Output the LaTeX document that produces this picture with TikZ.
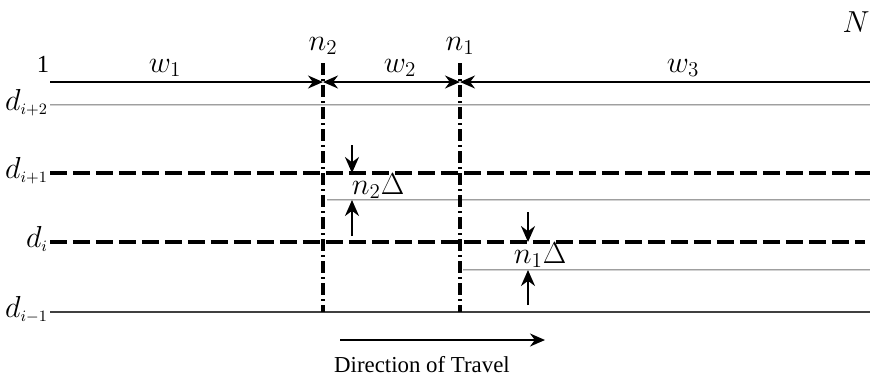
\documentclass[tikz,border=0pt]{standalone}
\usepackage{amsmath,amssymb}
\usepackage{fontspec}
\setmainfont{Liberation Serif}
\usetikzlibrary{arrows.meta,positioning}

\begin{document}
\begin{tikzpicture}[
  lane/.style={line width=0.6pt, draw=black!75},
  shifted/.style={draw=gray!75, double=gray!35, double distance=0.5pt, line width=0.45pt},
  bound/.style={line width=2.4pt, dash pattern=on 0.34cm off 0.12cm},
  split/.style={line width=2.2pt, dash pattern=on 0.24cm off 0.08cm on 0.04cm off 0.08cm},
  win/.style={line width=1pt, -{Stealth[length=0.3cm,width=0.26cm]}},
  gap/.style={line width=1.2pt, -{Stealth[length=0.32cm,width=0.28cm]}},
  lbl/.style={font=\fontsize{18}{20}\selectfont, inner sep=1pt},
  dlbl/.style={font=\fontsize{19}{21}\selectfont, inner sep=1pt, anchor=base east}
]
\useasboundingbox (0,0) rectangle (17.48,-7.52);

%--- corner coordinates
\coordinate (TL) at (1.0,-1.64);   \coordinate (TR) at (17.4,-1.64);
\coordinate (C2) at (6.46,-1.64);  \coordinate (C1) at (9.2,-1.64);

%--- lanes
\coordinate (A0) at (1.0,-2.1);   \coordinate (A1) at (17.4,-2.1);
\coordinate (B0) at (1.0,-3.46);  \coordinate (B1) at (17.4,-3.46);
\coordinate (S0) at (6.54,-4.0);  \coordinate (S1) at (17.4,-4.0);
\coordinate (D0) at (1.0,-4.84);  \coordinate (D1) at (17.3,-4.84);
\coordinate (R0) at (9.26,-5.4);  \coordinate (R1) at (17.4,-5.4);
\coordinate (E0) at (1.0,-6.24);  \coordinate (E1) at (17.4,-6.24);

\draw[shifted] (A0) -- (A1);
\draw[bound] (B0) -- (B1);
\draw[shifted] (S0) -- (S1);
\draw[bound] (D0) -- (D1);
\draw[shifted] (R0) -- (R1);
\draw[lane] (E0) -- (E1);

%--- window splits
\coordinate (V2a) at (6.46,-1.26); \coordinate (V2b) at (6.46,-6.24);
\coordinate (V1a) at (9.2,-1.26);  \coordinate (V1b) at (9.2,-6.24);
\draw[split] (V2a) -- (V2b);
\draw[split] (V1a) -- (V1b);

%--- windows
\draw[win] (TL) -- (C2);
\draw[win, {Stealth[length=0.3cm,width=0.26cm]}-{Stealth[length=0.3cm,width=0.26cm]}] (C2) -- (C1);
\draw[win, {Stealth[length=0.3cm,width=0.26cm]}-] (C1) -- (TR);

\node[lbl] (one) at (0.86,-1.28) {\fontsize{14}{16}\selectfont 1};
\node[lbl] (w1) at (3.3,-1.36) {$w_1$};
\node[lbl] (w2) at (8.0,-1.36) {$w_2$};
\node[lbl] (w3) at (13.66,-1.36) {$w_3$};
\node[lbl] (n2) at (6.46,-0.92) {$n_2$};
\node[lbl] (n1) at (9.2,-0.92) {$n_1$};
\node[lbl] (bigN) at (17.12,-0.44) {$N$};

%--- lane labels
\node[dlbl] (dA) at ([yshift=-0.1cm]A0) {$d_{\scriptscriptstyle i+2}$};
\node[dlbl] (dB) at ([yshift=-0.1cm]B0) {$d_{\scriptscriptstyle i+1}$};
\node[dlbl] (dD) at ([yshift=-0.1cm]D0) {$d_{\scriptscriptstyle i}$};
\node[dlbl] (dE) at ([yshift=-0.1cm]E0) {$d_{\scriptscriptstyle i-1}$};

%--- offsets
\coordinate (G2a) at (7.04,-2.9);  \coordinate (G2b) at (7.04,-3.46);
\coordinate (G2c) at (7.04,-4.72); \coordinate (G2d) at (7.04,-4.0);
\draw[gap] (G2a) -- (G2b);
\draw[gap] (G2c) -- (G2d);
\node[lbl] (del2) at (7.56,-3.72) {$n_2\Delta$};

\coordinate (G1a) at (10.56,-4.24); \coordinate (G1b) at (10.56,-4.84);
\coordinate (G1c) at (10.56,-6.1);  \coordinate (G1d) at (10.56,-5.4);
\draw[gap] (G1a) -- (G1b);
\draw[gap] (G1c) -- (G1d);
\node[lbl] (del1) at (10.8,-5.1) {$n_1\Delta$};

%--- travel
\coordinate (T0) at (6.8,-6.8); \coordinate (T1) at (10.9,-6.8);
\draw[win] (T0) -- (T1);
\node[font=\fontsize{13}{15}\selectfont] (travel) at (8.44,-7.3) {Direction of Travel};

\end{tikzpicture}
\end{document}
